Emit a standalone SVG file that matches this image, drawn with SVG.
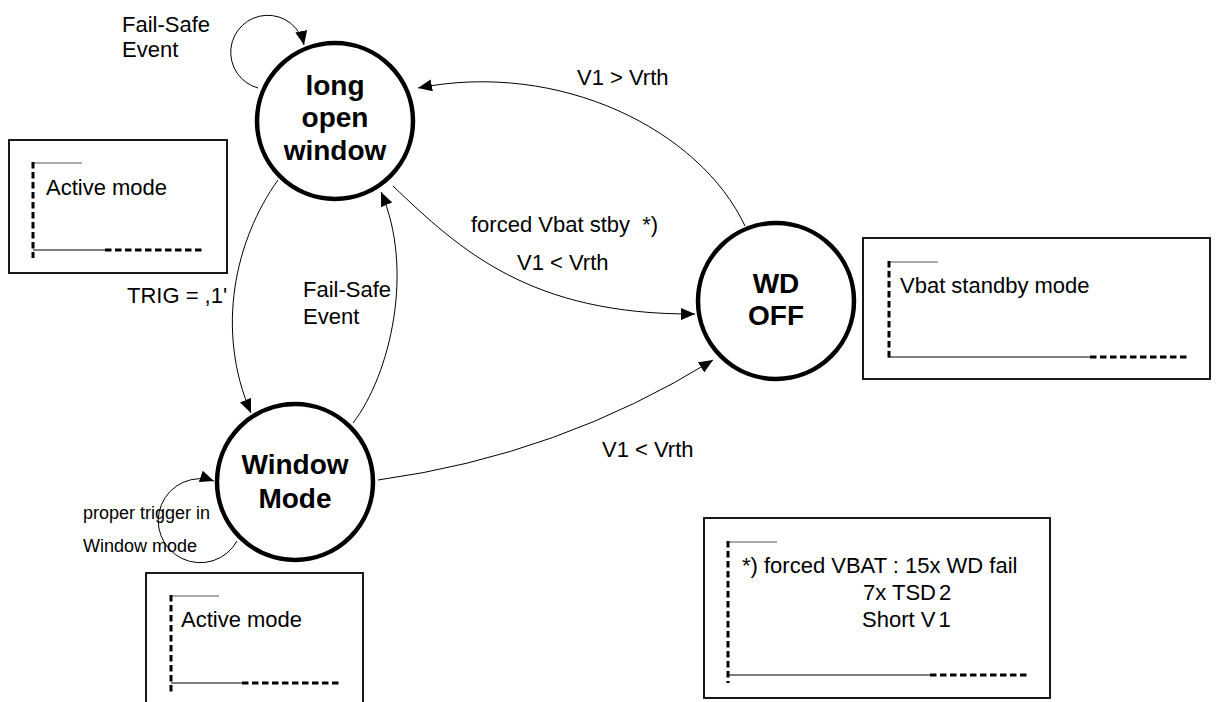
<svg xmlns="http://www.w3.org/2000/svg" width="1219" height="702" viewBox="0 0 1219 702">
<style>
text{font-family:"Liberation Sans",Arial,sans-serif;fill:#000}
.lbl{font-size:22px}
.small{font-size:18px}
.node{font-size:28px;font-weight:bold;text-anchor:middle}
.state{fill:#fff;stroke:#000;stroke-width:4.5}
.conn{fill:none;stroke:#000;stroke-width:1}
.box{fill:#fff;stroke:#000;stroke-width:1.8}
.thin{fill:none;stroke:#000;stroke-width:1}
.tick{fill:none;stroke:#555;stroke-width:1}
.dash{fill:none;stroke:#000;stroke-width:3;stroke-dasharray:6.5 3.5}
</style>
<defs>
<marker id="arr" markerWidth="14" markerHeight="12" refX="14" refY="6" orient="auto" markerUnits="userSpaceOnUse">
<path d="M0,0 L14,6 L0,12 z" fill="#000"/>
</marker>
</defs>

<g id="box-active-1">
<rect class="box" x="9" y="140" width="218" height="133"/>
<line class="tick" x1="33" y1="163" x2="82" y2="163"/>
<line class="dash" x1="33" y1="162" x2="33" y2="258"/>
<line class="thin" x1="33" y1="250" x2="105" y2="250"/>
<line class="dash" x1="105" y1="250" x2="204" y2="250"/>
<text class="lbl" x="46" y="195">Active mode</text>
</g>

<g id="box-active-2">
<rect class="box" x="146" y="573" width="217" height="140"/>
<line class="tick" x1="171" y1="596" x2="219" y2="596"/>
<line class="dash" x1="171" y1="595" x2="171" y2="692"/>
<line class="thin" x1="171" y1="683" x2="242" y2="683"/>
<line class="dash" x1="242" y1="683" x2="340" y2="683"/>
<text class="lbl" x="181" y="627">Active mode</text>
</g>

<g id="box-vbat">
<rect class="box" x="863" y="238" width="347" height="141"/>
<line class="tick" x1="889" y1="262" x2="938" y2="262"/>
<line class="dash" x1="889" y1="261" x2="889" y2="358"/>
<line class="thin" x1="889" y1="357" x2="1090" y2="357"/>
<line class="dash" x1="1090" y1="357" x2="1188" y2="357"/>
<text class="lbl" x="900" y="293">Vbat standby mode</text>
</g>

<g id="box-note">
<rect class="box" x="704" y="518" width="346" height="180"/>
<line class="tick" x1="728" y1="542" x2="777" y2="542"/>
<line class="dash" x1="728" y1="541" x2="728" y2="683"/>
<line class="thin" x1="728" y1="675" x2="930" y2="675"/>
<line class="dash" x1="930" y1="675" x2="1027" y2="675"/>
<text class="lbl" x="742" y="573">*) forced VBAT : 15x WD fail</text>
<text class="lbl" x="863" y="600">7x TSD<tspan dx="3">2</tspan></text>
<text class="lbl" x="862" y="627">Short V<tspan dx="3">1</tspan></text>
</g>

<g id="connectors">
<path class="conn" d="M258,88 A37,37 0 1 1 304,45" marker-end="url(#arr)"/>
<path class="conn" d="M237,541 A42,42 0 1 1 214,481" marker-end="url(#arr)"/>
<path class="conn" d="M278,180 C235,240 215,330 251,413" marker-end="url(#arr)"/>
<path class="conn" d="M353,423 C390,375 415,270 381,192" marker-end="url(#arr)"/>
<path class="conn" d="M745,226 C700,130 560,60 418,88" marker-end="url(#arr)"/>
<path class="conn" d="M393,186 C460,250 530,315 695,314" marker-end="url(#arr)"/>
<path class="conn" d="M378,480 Q560,455 713,360" marker-end="url(#arr)"/>
<text class="lbl" x="122" y="32">Fail-Safe</text>
<text class="lbl" x="122" y="57">Event</text>
<text class="lbl" x="127" y="303">TRIG = ,1'</text>
<text class="lbl" x="303" y="297">Fail-Safe</text>
<text class="lbl" x="303" y="324">Event</text>
<text class="small" x="83" y="519">proper trigger in</text>
<text class="small" x="83" y="552">Window mode</text>
<text class="lbl" x="577" y="85">V1 &gt; Vrth</text>
<text class="lbl" x="471" y="232" xml:space="preserve">forced Vbat stby  *)</text>
<text class="lbl" x="517" y="270">V1 &lt; Vrth</text>
<text class="lbl" x="602" y="457">V1 &lt; Vrth</text>
</g>

<g id="node-long-open-window">
<circle class="state" cx="335" cy="121" r="78"/>
<text class="node" x="335" y="95">long</text>
<text class="node" x="335" y="127">open</text>
<text class="node" x="335" y="160">window</text>
</g>

<g id="node-wd-off">
<circle class="state" cx="776" cy="301" r="78"/>
<text class="node" x="776" y="293">WD</text>
<text class="node" x="776" y="325">OFF</text>
</g>

<g id="node-window-mode">
<circle class="state" cx="295" cy="482" r="78"/>
<text class="node" x="295" y="474">Window</text>
<text class="node" x="295" y="508">Mode</text>
</g>
</svg>
